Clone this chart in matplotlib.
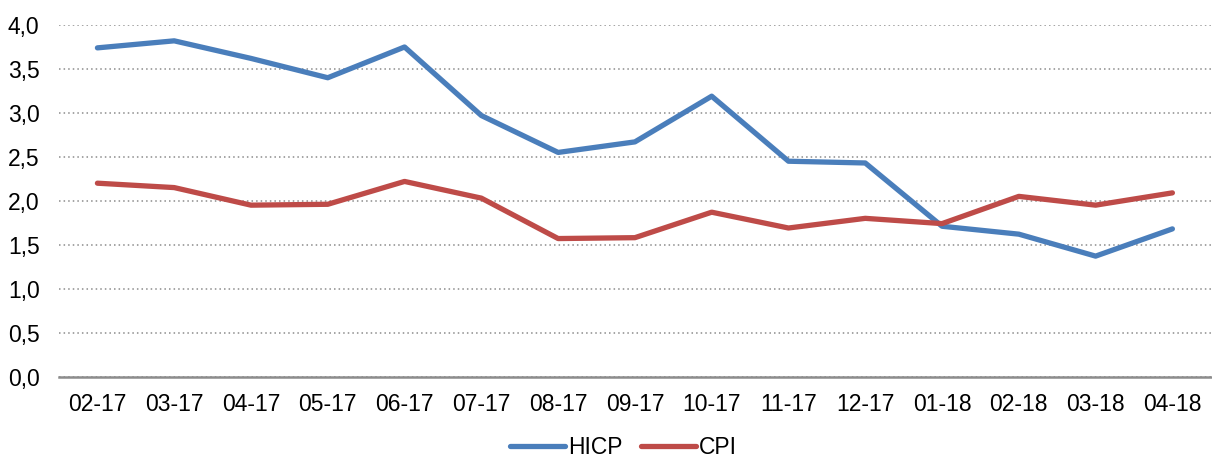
import numpy as np
import matplotlib.pyplot as plt
from matplotlib.ticker import FuncFormatter

months = ['02-17', '03-17', '04-17', '05-17', '06-17', '07-17', '08-17', '09-17',
          '10-17', '11-17', '12-17', '01-18', '02-18', '03-18', '04-18']
hicp = [3.74, 3.82, 3.62, 3.40, 3.75, 2.97, 2.55, 2.67, 3.19, 2.45, 2.43, 1.71, 1.62, 1.37, 1.68]
cpi = [2.20, 2.15, 1.95, 1.96, 2.22, 2.03, 1.57, 1.58, 1.87, 1.69, 1.80, 1.74, 2.05, 1.95, 2.09]

plt.rcParams['font.family'] = ['Liberation Sans', 'DejaVu Sans']

fig = plt.figure(figsize=(12.12, 4.59), dpi=100)
ax = fig.add_axes([0.0487, 0.1797, 0.9503, 0.7658])

x = np.arange(len(months))
ax.plot(x, hicp, color='#4A7EBB', lw=3.8, label='HICP', solid_capstyle='round', solid_joinstyle='round')
ax.plot(x, cpi, color='#BE4B48', lw=3.8, label='CPI', solid_capstyle='round', solid_joinstyle='round')

ax.set_xlim(-0.5, len(months) - 0.5)
ax.set_ylim(0, 4.0)
ax.set_yticks(np.arange(0, 4.01, 0.5))
ax.yaxis.set_major_formatter(FuncFormatter(lambda v, p: ('%.1f' % v).replace('.', ',')))
ax.set_xticks(x)
ax.set_xticklabels(months)

ax.grid(axis='y', linestyle=(0, (1, 2)), color='#8c8c8c', lw=1.1)
ax.set_axisbelow(True)
for s in ['top', 'right', 'left']:
    ax.spines[s].set_visible(False)
ax.spines['bottom'].set_color('#8c8c8c')
ax.spines['bottom'].set_linewidth(1.8)
ax.tick_params(axis='both', length=0, labelsize=16.5, colors='black')
ax.tick_params(axis='y', pad=14)
ax.tick_params(axis='x', pad=12)

ax.legend(loc='lower center', bbox_to_anchor=(0.49, -0.262), ncol=2, frameon=False,
          fontsize=16.5, handlelength=2.4, handletextpad=0.15, columnspacing=0.8,
          borderaxespad=0)

fig.savefig('out.png', dpi=100)
